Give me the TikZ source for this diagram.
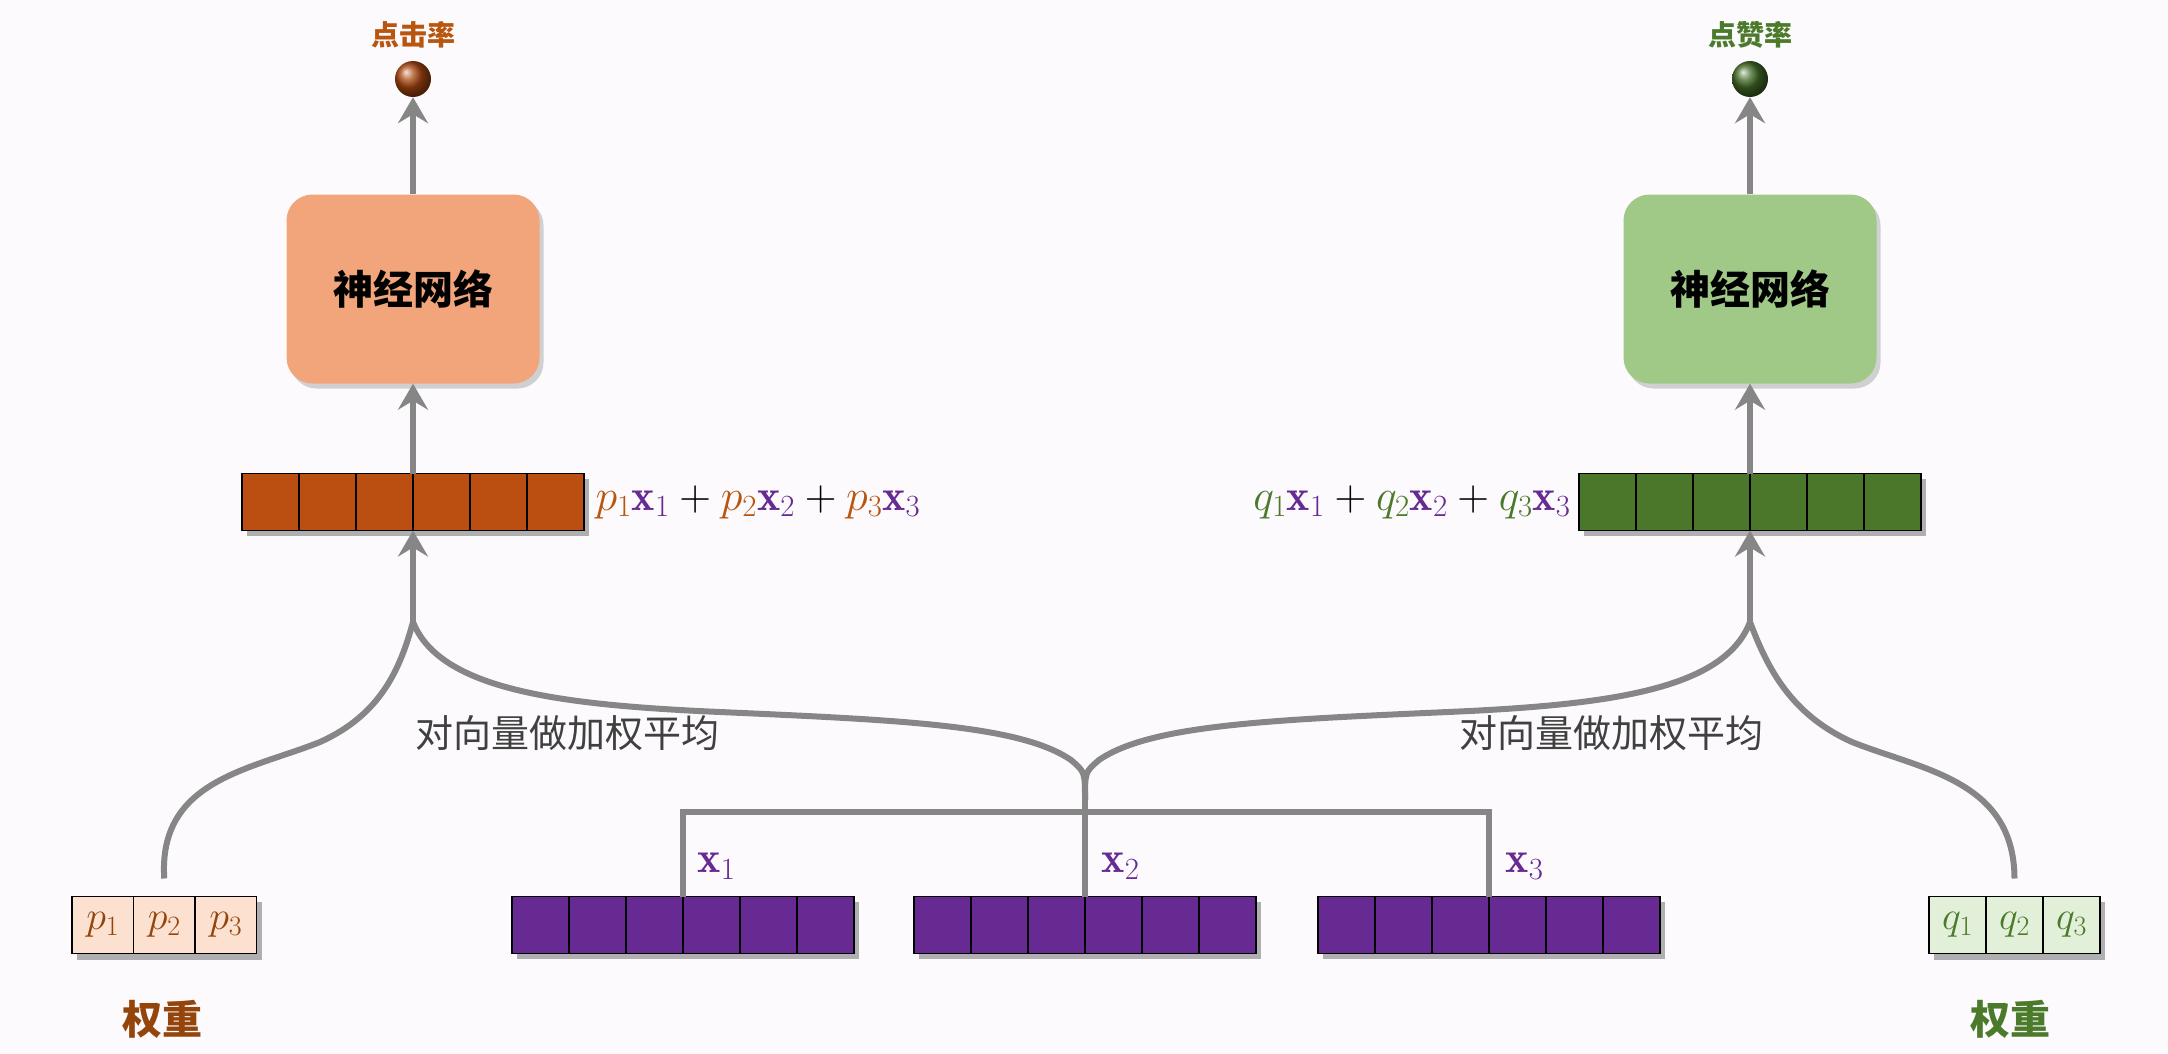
\RequirePackage{fix-cm}
\documentclass[tikz,border=0pt]{standalone}
\usepackage{fontspec}
\newfontfamily\cjk{Noto Sans CJK SC}
\usetikzlibrary{arrows.meta,shadows,shadings}
\definecolor{orbox}{HTML}{F2A57A}
\definecolor{orvec}{HTML}{BB4F11}
\definecolor{pur}{HTML}{662A92}
\definecolor{grbox}{HTML}{A0C987}
\definecolor{grvec}{HTML}{4A772A}
\definecolor{pbox}{HTML}{FCE0D0}
\definecolor{qbox}{HTML}{E2F0D9}
\definecolor{ortxt}{HTML}{B8560F}
\definecolor{grtxt}{HTML}{4B7A2B}
\definecolor{bg}{HTML}{FCFAFD}
\begin{document}
\begin{tikzpicture}[x=1pt,y=-1pt,
  cell/.style={draw=black,line width=1.5pt,minimum width=57pt,minimum height=57pt,inner sep=0pt,outer sep=0pt},
  shad/.style={drop shadow={shadow xshift=4pt,shadow yshift=-5pt,opacity=0.35}},
  nn/.style={rounded corners=26pt,minimum width=253pt,minimum height=189pt,font=\cjk\fontsize{40}{44}\selectfont\bfseries,shad},
  conn/.style={draw=gray!95,line width=6pt},
  arr/.style={conn,-{Stealth[length=26pt,width=30pt,inset=9pt]}},
  lbl/.style={font=\cjk\fontsize{38}{40}\selectfont,text=black!75},
  mth/.style={font=\fontsize{40}{44}\selectfont},
  mthb/.style={font=\fontsize{44}{48}\selectfont}]
\fill[bg] (0,0) rectangle (2168,1054);
\useasboundingbox (0,0) rectangle (2168,1054);
% balls
\shade[ball color=orvec!90!black] (413,79) circle (18pt); \node (ball1) at (413,79) [circle,minimum size=36pt] {};
\shade[ball color=grvec!90!black] (1750,79) circle (18pt); \node (ball2) at (1750,79) [circle,minimum size=36pt] {};
\node[font=\cjk\fontsize{28}{30}\selectfont\bfseries,text=ortxt] (t1) at (413,35) {点击率};
\node[font=\cjk\fontsize{28}{30}\selectfont\bfseries,text=grtxt] (t2) at (1750,35) {点赞率};
% NN boxes
\node[nn,fill=orbox] (nn1) at (413,289) {神经网络};
\node[nn,fill=grbox] (nn2) at (1750,289) {神经网络};
% vectors
\newcommand{\vecrow}[4]{% name, x-left, y-center, color
  \fill[black,opacity=0.3] (#2+5,#3-23) rectangle (#2+347,#3+34);
  \foreach \i in {0,...,5}{\node[cell,fill=#4,anchor=west] (#1\i) at (#2+\i*57,#3) {};}}
\vecrow{o}{242}{502}{orvec}
\vecrow{g}{1579}{502}{grvec}
\vecrow{va}{512}{925}{pur}
\vecrow{vb}{914}{925}{pur}
\vecrow{vc}{1318}{925}{pur}
% weights
\fill[black,opacity=0.3] (77,902) rectangle (262,960);
\foreach \i/\t in {0/1,1/2,2/3}{\node[cell,fill=pbox,minimum width=61.5pt,anchor=west,text=ortxt!80!black,mth] (p\i) at (72+\i*61.5,925) {$p_{\t}$};}
\fill[black,opacity=0.3] (1934,902) rectangle (2105,960);
\foreach \i/\t in {0/1,1/2,2/3}{\node[cell,fill=qbox,minimum width=57pt,anchor=west,text=grtxt,mth] (q\i) at (1929+\i*57,925) {$q_{\t}$};}
\node[font=\cjk\fontsize{40}{44}\selectfont\bfseries,text=ortxt!80!black] (w1) at (162,1019) {权重};
\node[font=\cjk\fontsize{40}{44}\selectfont\bfseries,text=grtxt] (w2) at (2010,1019) {权重};
% formulas
\node[mthb,anchor=west] (f1) at (592,502) {$\color{ortxt}p_1\color{pur}\mathbf{x}_1\color{black}+\color{ortxt}p_2\color{pur}\mathbf{x}_2\color{black}+\color{ortxt}p_3\color{pur}\mathbf{x}_3$};
\node[mthb,anchor=east] (f2) at (1574,502) {$\color{grtxt}q_1\color{pur}\mathbf{x}_1\color{black}+\color{grtxt}q_2\color{pur}\mathbf{x}_2\color{black}+\color{grtxt}q_3\color{pur}\mathbf{x}_3$};
\node[mthb,text=pur,anchor=west] (x1) at (694,866) {$\mathbf{x}_1$};
\node[mthb,text=pur,anchor=west] (x2) at (1098,866) {$\mathbf{x}_2$};
\node[mthb,text=pur,anchor=west] (x3) at (1502,866) {$\mathbf{x}_3$};
% arrows
\draw[arr] (nn1.north) -- (ball1.south);
\draw[arr] (nn2.north) -- (ball2.south);
\draw[arr] (o3.north west) -- (nn1.south);
\draw[arr] (g3.north west) -- (nn2.south);
\coordinate (j1) at (413,622);
\coordinate (j2) at (1750,622);
\coordinate (m) at (1085,800);
\draw[arr] (j1) -- (o3.south west);
\draw[arr] (j2) -- (g3.south west);
% bracket
\draw[conn] (va3.north west) -- ++(0,-85) -| (vc3.north west);
\draw[conn] (vb3.north west) -- (m);
% curves
\draw[conn] (p1.north) ++(0,-18) .. controls (158,780) and (250,770) .. (320,742) .. controls (380,715) and (400,670) .. (j1);
\draw[conn] (j1) .. controls (440,690) and (560,705) .. (720,712) .. controls (900,720) and (1020,725) .. (1071,760) .. controls (1085,772) .. (m);
\draw[conn] (q1.north) ++(0,-18) .. controls (2014,780) and (1922,770) .. (1852,742) .. controls (1792,715) and (1768,670) .. (j2);
\draw[conn] (j2) .. controls (1724,690) and (1608,705) .. (1448,712) .. controls (1268,720) and (1150,725) .. (1099,760) .. controls (1085,772) .. (m);
\node[lbl] (l1) at (567,733) {对向量做加权平均};
\node[lbl] (l2) at (1611,733) {对向量做加权平均};
\end{tikzpicture}
\end{document}
